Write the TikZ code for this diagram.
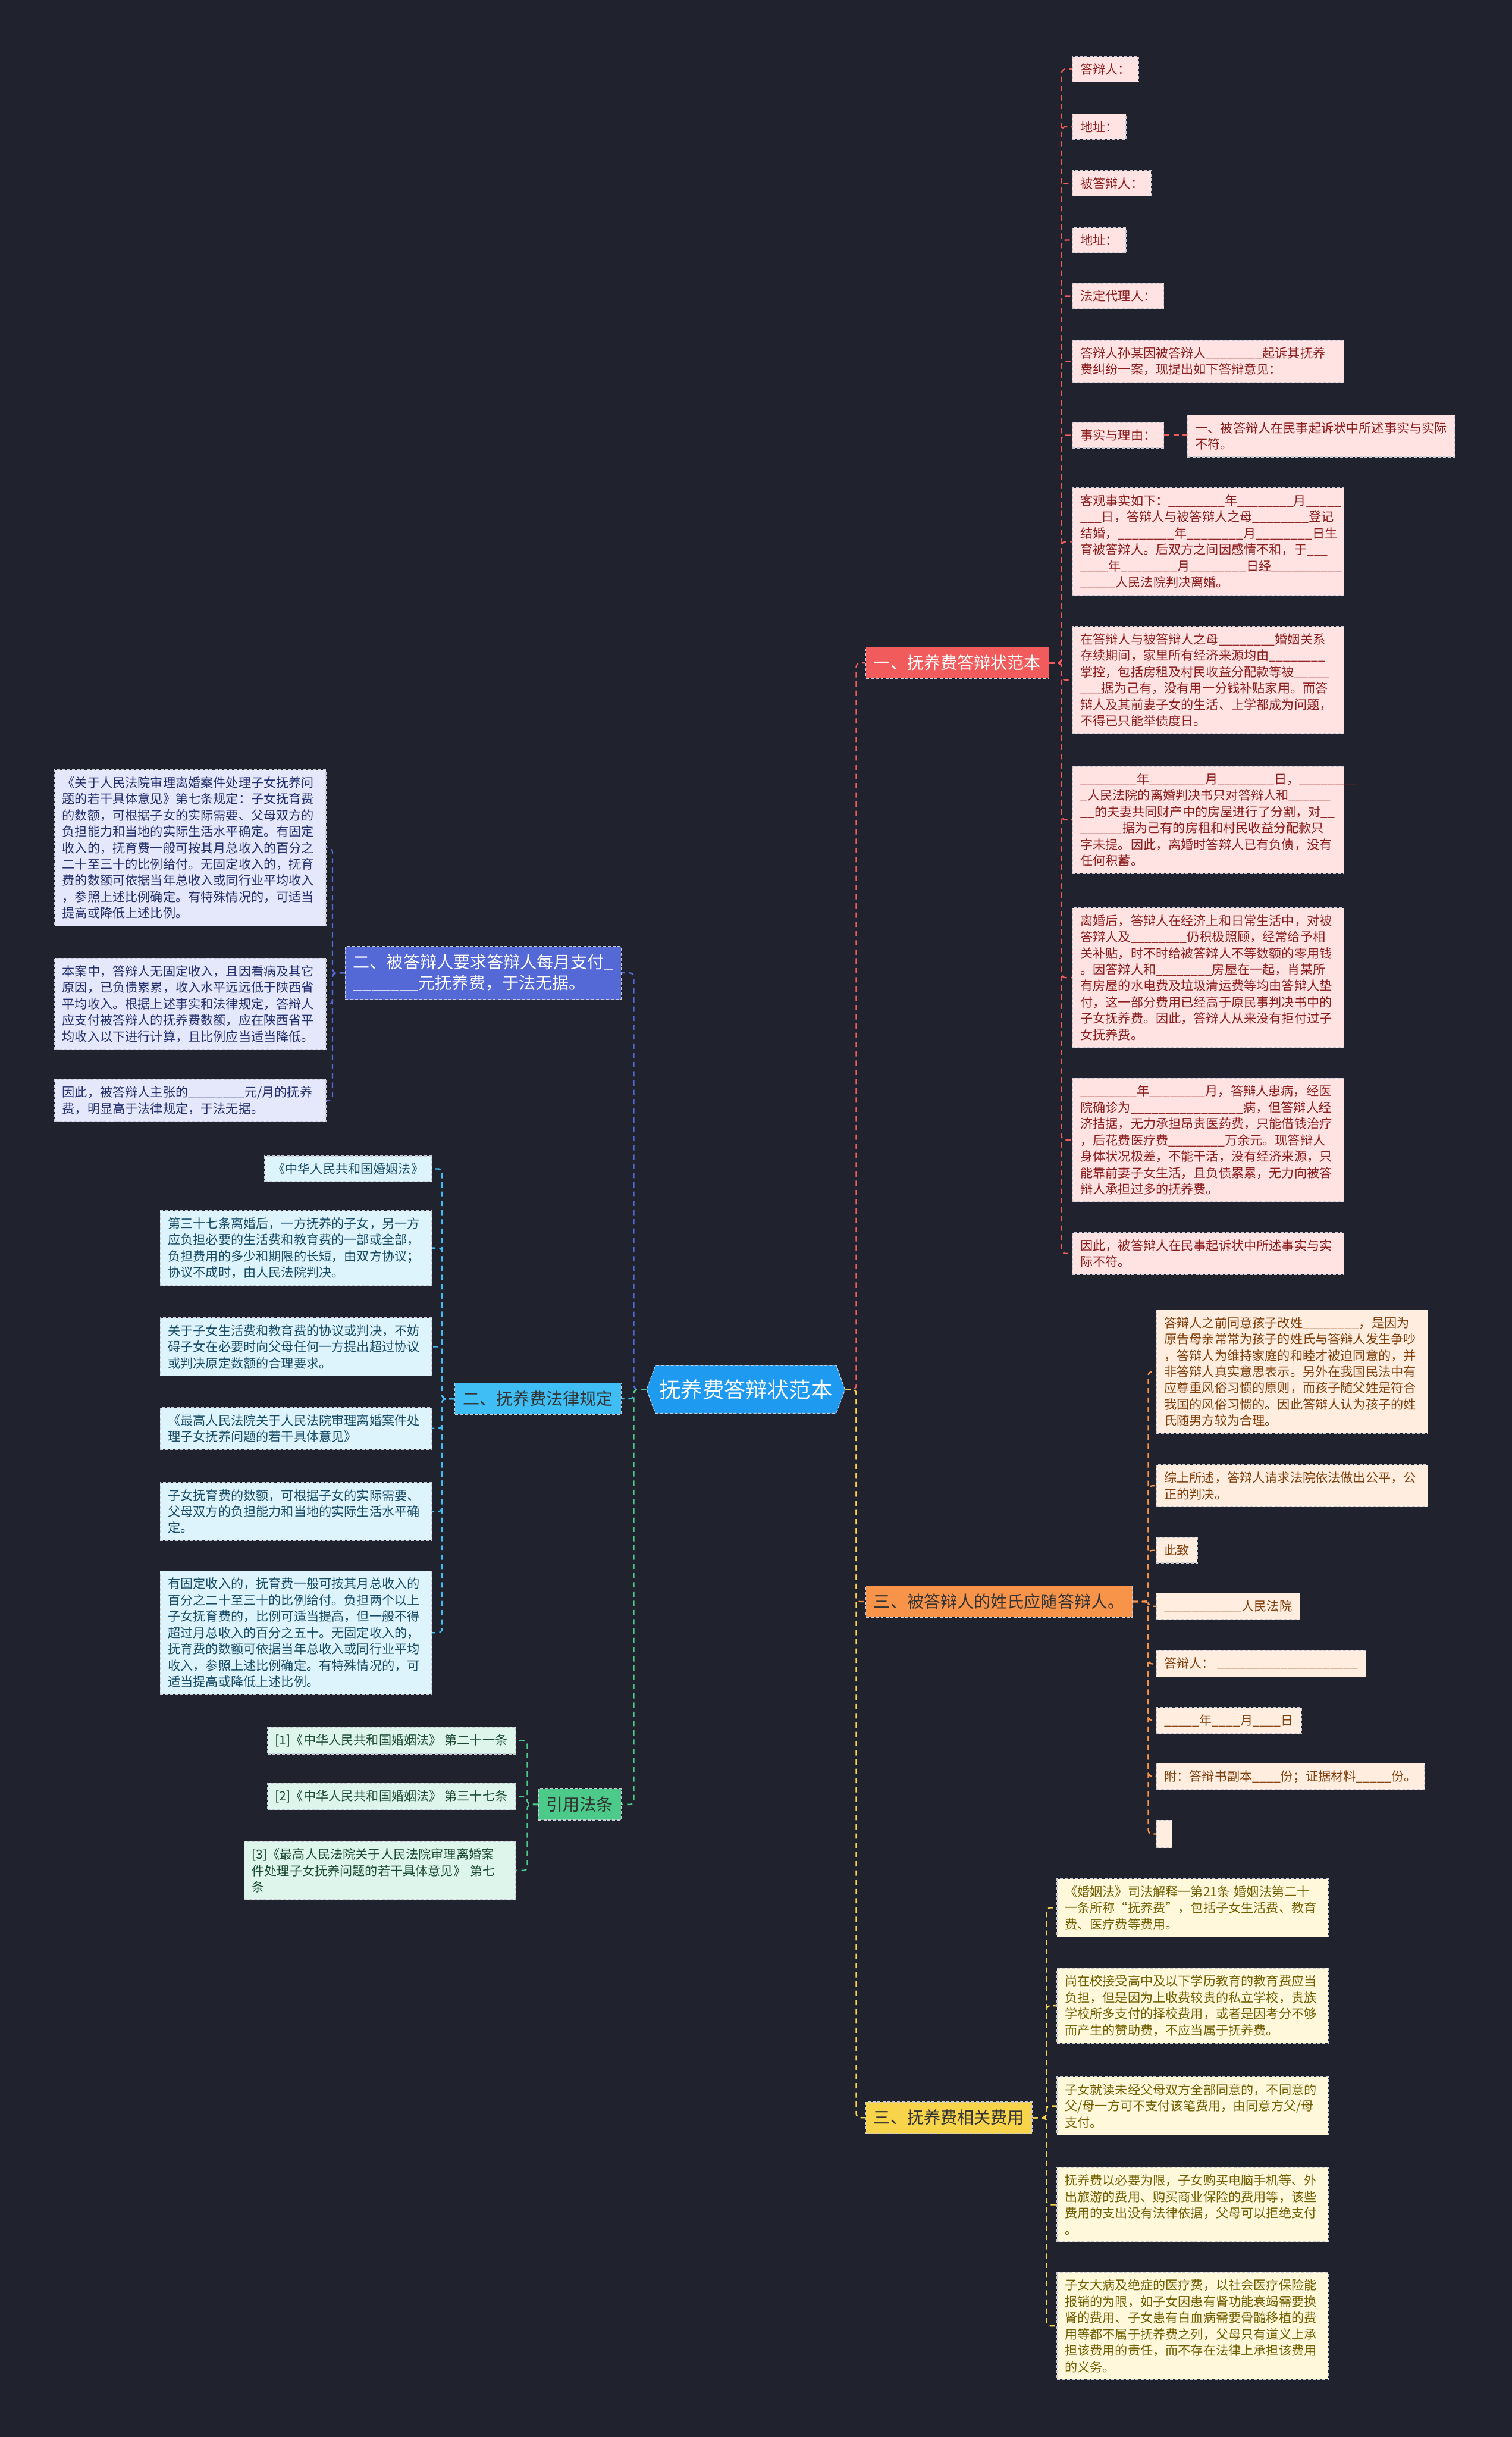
\documentclass[tikz,border=0pt]{standalone}
\usepackage{fontspec}
\setmainfont{Noto Sans CJK SC}
\usetikzlibrary{shapes.symbols}

\definecolor{bg}{HTML}{20232E}
\definecolor{boxline}{HTML}{C9CCD4}
\definecolor{rootblue}{HTML}{1E9BF0}
\definecolor{redmain}{HTML}{F15B5B}
\definecolor{redfill}{HTML}{FFE3E3}
\definecolor{redtext}{HTML}{8B1D1D}
\definecolor{orgmain}{HTML}{F7944A}
\definecolor{orgfill}{HTML}{FFEEDF}
\definecolor{orgtext}{HTML}{7F3F0D}
\definecolor{ylwmain}{HTML}{F7D44A}
\definecolor{ylwfill}{HTML}{FFF8DB}
\definecolor{ylwtext}{HTML}{705E00}
\definecolor{pplmain}{HTML}{5468D6}
\definecolor{pplfill}{HTML}{E5E8FA}
\definecolor{ppltext}{HTML}{24306E}
\definecolor{cynmain}{HTML}{3EBEF5}
\definecolor{cynfill}{HTML}{DDF4FD}
\definecolor{cyntext}{HTML}{174B66}
\definecolor{grnmain}{HTML}{4CCA8A}
\definecolor{grnfill}{HTML}{DDF5EA}
\definecolor{grntext}{HTML}{1B4A33}

\newcommand\leaffont{\fontsize{6.4}{8.3}\selectfont}
\newcommand\branchfont{\fontsize{8.5}{10.6}\selectfont}
\newcommand\rootfont{\fontsize{11}{13}\selectfont}

\tikzset{every picture/.style={line width=0.75pt},
  box/.style={draw=boxline, dash pattern=on 1.5pt off 1pt, line width=0.4pt,
    inner xsep=4pt, inner ysep=3.5pt, align=left, font=\leaffont},
  wide/.style={text width=130pt},
  redleaf/.style={box, fill=redfill, text=redtext, anchor=west},
  orgleaf/.style={box, fill=orgfill, text=orgtext, anchor=west},
  ylwleaf/.style={box, fill=ylwfill, text=ylwtext, anchor=west},
  pplleaf/.style={box, fill=pplfill, text=ppltext, anchor=east},
  cynleaf/.style={box, fill=cynfill, text=cyntext, anchor=east},
  grnleaf/.style={box, fill=grnfill, text=grntext, anchor=east},
  branch/.style={box, font=\branchfont, inner ysep=4pt},
  rootbox/.style={signal, signal to=east and west, signal pointer angle=140,
    fill=rootblue, text=white, font=\rootfont, draw=boxline,
    dash pattern=on 1.5pt off 1pt, line width=0.4pt, inner xsep=2pt, inner ysep=7pt},
  link/.style={dash pattern=on 2.7pt off 2pt, line width=0.7pt, rounded corners=2pt}
}

\begin{document}
\catcode`\_=12
\begin{tikzpicture}[x=0.79pt,y=-0.79pt]
\useasboundingbox[fill=bg] (0,0) rectangle (973,1568);

%Root
\node[rootbox] (root) at (480,894) {抚养费答辩状范本};

%Branches
\node[branch, fill=redmain, text=white, anchor=west] (b1) at (557,426.5) {一、抚养费答辩状范本};
\node[branch, fill=orgmain, text=black!80, anchor=west] (b2) at (557,1030.5) {三、被答辩人的姓氏应随答辩人。};
\node[branch, fill=ylwmain, text=black!80, anchor=west] (b3) at (557,1362.5) {三、抚养费相关费用};
\node[branch, fill=pplmain, text=white, anchor=east] (b4) at (400,626) {二、被答辩人要求答辩人每月支付_\\_______元抚养费，于法无据。};
\node[branch, fill=cynmain, text=black!80, anchor=east] (b5) at (400,900) {二、抚养费法律规定};
\node[branch, fill=grnmain, text=black!80, anchor=east] (b6) at (400,1161) {引用法条};

%Leaves: branch 1
\node[redleaf] (r1) at (690,44.5) {答辩人：};
\node[redleaf] (r2) at (690,81.5) {地址：};
\node[redleaf] (r3) at (690,118) {被答辩人：};
\node[redleaf] (r4) at (690,154.5) {地址：};
\node[redleaf] (r5) at (690,190.5) {法定代理人：};
\node[redleaf, wide] (r6) at (690,232.5) {答辩人孙某因被答辩人________起诉其抚养\\费纠纷一案，现提出如下答辩意见：};
\node[redleaf] (r7) at (690,280) {事实与理由：};
\node[redleaf] (r7a) at (764,280.5) {一、被答辩人在民事起诉状中所述事实与实际\\不符。};
\node[redleaf, wide] (r8) at (690,348.5) {客观事实如下：________年________月_____\\___日，答辩人与被答辩人之母________登记\\结婚，________年________月________日生\\育被答辩人。后双方之间因感情不和，于___\\____年________月________日经__________\\_____人民法院判决离婚。};
\node[redleaf, wide] (r9) at (690,437.5) {在答辩人与被答辩人之母________婚姻关系\\存续期间，家里所有经济来源均由________\\掌控，包括房租及村民收益分配款等被_____\\___据为己有，没有用一分钱补贴家用。而答\\辩人及其前妻子女的生活、上学都成为问题，\\不得已只能举债度日。};
\node[redleaf, wide] (r10) at (690,527.5) {________年________月________日，________\\_人民法院的离婚判决书只对答辩人和______\\__的夫妻共同财产中的房屋进行了分割，对__\\______据为己有的房租和村民收益分配款只\\字未提。因此，离婚时答辩人已有负债，没有\\任何积蓄。};
\node[redleaf, wide] (r11) at (690,629) {离婚后，答辩人在经济上和日常生活中，对被\\答辩人及________仍积极照顾，经常给予相\\关补贴，时不时给被答辩人不等数额的零用钱\\。因答辩人和________房屋在一起，肖某所\\有房屋的水电费及垃圾清运费等均由答辩人垫\\付，这一部分费用已经高于原民事判决书中的\\子女抚养费。因此，答辩人从来没有拒付过子\\女抚养费。};
\node[redleaf, wide] (r12) at (690,733.5) {________年________月，答辩人患病，经医\\院确诊为________________病，但答辩人经\\济拮据，无力承担昂贵医药费，只能借钱治疗\\，后花费医疗费________万余元。现答辩人\\身体状况极差，不能干活，没有经济来源，只\\能靠前妻子女生活，且负债累累，无力向被答\\辩人承担过多的抚养费。};
\node[redleaf, wide] (r13) at (690,806.5) {因此，被答辩人在民事起诉状中所述事实与实\\际不符。};

%Leaves: branch 2
\node[orgleaf, wide] (o1) at (744,882.5) {答辩人之前同意孩子改姓________，是因为\\原告母亲常常为孩子的姓氏与答辩人发生争吵\\，答辩人为维持家庭的和睦才被迫同意的，并\\非答辩人真实意思表示。另外在我国民法中有\\应尊重风俗习惯的原则，而孩子随父姓是符合\\我国的风俗习惯的。因此答辩人认为孩子的姓\\氏随男方较为合理。};
\node[orgleaf, wide] (o2) at (744,956) {综上所述，答辩人请求法院依法做出公平，公\\正的判决。};
\node[orgleaf] (o3) at (744,997.5) {此致};
\node[orgleaf] (o4) at (744,1033.5) {___________人民法院};
\node[orgleaf] (o5) at (744,1070.5) {答辩人： ____________________};
\node[orgleaf] (o6) at (744,1107) {_____年____月____日};
\node[orgleaf] (o7) at (744,1143) {附：答辩书副本____份；证据材料_____份。};
\node[orgleaf, minimum height=14pt] (o8) at (744,1180) {};

%Leaves: branch 3
\node[ylwleaf, wide] (y1) at (680,1227.5) {《婚姻法》司法解释一第21条 婚姻法第二十\\一条所称“抚养费”，包括子女生活费、教育\\费、医疗费等费用。};
\node[ylwleaf, wide] (y2) at (680,1290.5) {尚在校接受高中及以下学历教育的教育费应当\\负担，但是因为上收费较贵的私立学校，贵族\\学校所多支付的择校费用，或者是因考分不够\\而产生的赞助费，不应当属于抚养费。};
\node[ylwleaf, wide] (y3) at (680,1355) {子女就读未经父母双方全部同意的，不同意的\\父/母一方可不支付该笔费用，由同意方父/母\\支付。};
\node[ylwleaf, wide] (y4) at (680,1418.5) {抚养费以必要为限，子女购买电脑手机等、外\\出旅游的费用、购买商业保险的费用等，该些\\费用的支出没有法律依据，父母可以拒绝支付\\。};
\node[ylwleaf, wide] (y5) at (680,1496.5) {子女大病及绝症的医疗费，以社会医疗保险能\\报销的为限，如子女因患有肾功能衰竭需要换\\肾的费用、子女患有白血病需要骨髓移植的费\\用等都不属于抚养费之列，父母只有道义上承\\担该费用的责任，而不存在法律上承担该费用\\的义务。};

%Leaves: branch 4
\node[pplleaf, wide] (p1) at (210,545.5) {《关于人民法院审理离婚案件处理子女抚养问\\题的若干具体意见》第七条规定：子女抚育费\\的数额，可根据子女的实际需要、父母双方的\\负担能力和当地的实际生活水平确定。有固定\\收入的，抚育费一般可按其月总收入的百分之\\二十至三十的比例给付。无固定收入的，抚育\\费的数额可依据当年总收入或同行业平均收入\\，参照上述比例确定。有特殊情况的，可适当\\提高或降低上述比例。};
\node[pplleaf, wide] (p2) at (210,646) {本案中，答辩人无固定收入，且因看病及其它\\原因，已负债累累，收入水平远远低于陕西省\\平均收入。根据上述事实和法律规定，答辩人\\应支付被答辩人的抚养费数额，应在陕西省平\\均收入以下进行计算，且比例应当适当降低。};
\node[pplleaf, wide] (p3) at (210,708) {因此，被答辩人主张的________元/月的抚养\\费，明显高于法律规定，于法无据。};

%Leaves: branch 5
\node[cynleaf] (c1) at (278,752) {《中华人民共和国婚姻法》};
\node[cynleaf, wide] (c2) at (278,803) {第三十七条离婚后，一方抚养的子女，另一方\\应负担必要的生活费和教育费的一部或全部，\\负担费用的多少和期限的长短，由双方协议；\\协议不成时，由人民法院判决。};
\node[cynleaf, wide] (c3) at (278,866.5) {关于子女生活费和教育费的协议或判决，不妨\\碍子女在必要时向父母任何一方提出超过协议\\或判决原定数额的合理要求。};
\node[cynleaf, wide] (c4) at (278,919) {《最高人民法院关于人民法院审理离婚案件处\\理子女抚养问题的若干具体意见》};
\node[cynleaf, wide] (c5) at (278,972.5) {子女抚育费的数额，可根据子女的实际需要、\\父母双方的负担能力和当地的实际生活水平确\\定。};
\node[cynleaf, wide] (c6) at (278,1050.5) {有固定收入的，抚育费一般可按其月总收入的\\百分之二十至三十的比例给付。负担两个以上\\子女抚育费的，比例可适当提高，但一般不得\\超过月总收入的百分之五十。无固定收入的，\\抚育费的数额可依据当年总收入或同行业平均\\收入，参照上述比例确定。有特殊情况的，可\\适当提高或降低上述比例。};

%Leaves: branch 6
\node[grnleaf] (g1) at (332,1120) {[1]《中华人民共和国婚姻法》 第二十一条};
\node[grnleaf] (g2) at (332,1156) {[2]《中华人民共和国婚姻法》 第三十七条};
\node[grnleaf, wide] (g3) at (332,1203.5) {[3]《最高人民法院关于人民法院审理离婚案\\件处理子女抚养问题的若干具体意见》 第七\\条};

%Connectors: root to branches
\draw[link, redmain] (root.east) -- ++(7,0) |- (b1.west);
\draw[link, orgmain] (root.east) -- ++(7,0) |- (b2.west);
\draw[link, ylwmain] (root.east) -- ++(7,0) |- (b3.west);
\draw[link, pplmain] (root.west) -- ++(-8,0) |- (b4.east);
\draw[link, cynmain] (root.west) -- ++(-8,0) |- (b5.east);
\draw[link, grnmain] (root.west) -- ++(-8,0) |- (b6.east);

%Connectors: branches to leaves
\foreach \n in {r1,r2,r3,r4,r5,r6,r7,r8,r9,r10,r11,r12,r13}
  \draw[link, redmain] (b1.east) -- ++(8,0) |- (\n.west);
\draw[link, redmain] (r7.east) -- (r7a.west |- r7.east);
\foreach \n in {o1,o2,o3,o4,o5,o6,o7,o8}
  \draw[link, orgmain] (b2.east) -- ++(10,0) |- (\n.west);
\foreach \n in {y1,y2,y3,y4,y5}
  \draw[link, ylwmain] (b3.east) -- ++(9,0) |- (\n.west);
\foreach \n in {p1,p2,p3}
  \draw[link, pplmain] (b4.west) -- ++(-8,0) |- (\n.east);
\foreach \n in {c1,c2,c3,c4,c5,c6}
  \draw[link, cynmain] (b5.west) -- ++(-8,0) |- (\n.east);
\foreach \n in {g1,g2,g3}
  \draw[link, grnmain] (b6.west) -- ++(-7,0) |- (\n.east);
\end{tikzpicture}
\end{document}
